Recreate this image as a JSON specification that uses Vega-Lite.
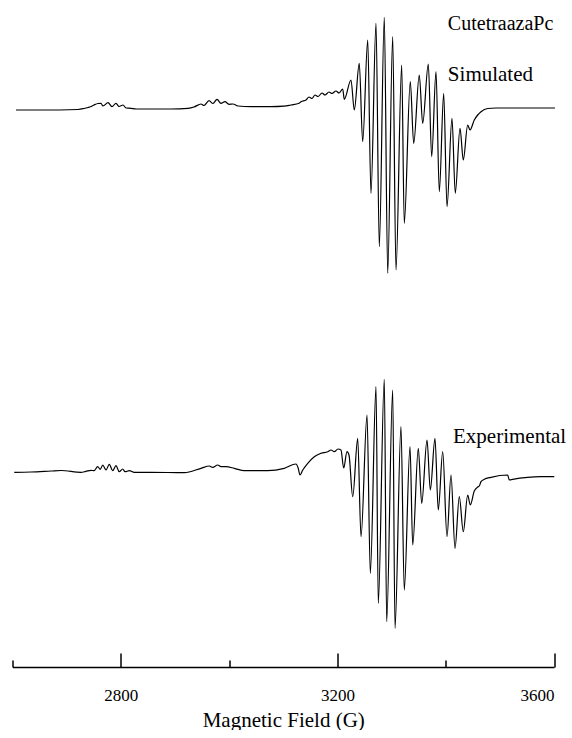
{
  "$schema": "https://vega.github.io/schema/vega-lite/v6.json",
  "background": "white",
  "padding": {"left": 11.5, "top": 0, "right": 6, "bottom": 0},
  "spacing": 0,
  "bounds": "flush",
  "config": {"view": {"stroke": null}},
  "datasets": {
    "simulated": [
      {"B": 2606.5, "I": 0}, {"B": 2652.6, "I": 0}, {"B": 2721.0, "I": 0.5}, {"B": 2732.0, "I": 1.5},
      {"B": 2739.4, "I": 2.5}, {"B": 2745.0, "I": 3.5}, {"B": 2750.5, "I": 5}, {"B": 2757.9, "I": 6.5},
      {"B": 2763.4, "I": 6.7}, {"B": 2767.1, "I": 4}, {"B": 2776.4, "I": 7.3}, {"B": 2783.7, "I": 3.3},
      {"B": 2791.1, "I": 6.7}, {"B": 2796.7, "I": 3.5}, {"B": 2804.1, "I": 5}, {"B": 2809.6, "I": 2},
      {"B": 2818.8, "I": 1.7}, {"B": 2828.1, "I": 1}, {"B": 2855.8, "I": 1}, {"B": 2892.7, "I": 1},
      {"B": 2924.1, "I": 1.7}, {"B": 2935.2, "I": 3}, {"B": 2948.1, "I": 6}, {"B": 2953.6, "I": 4.5},
      {"B": 2962.9, "I": 9.3}, {"B": 2970.3, "I": 6.5}, {"B": 2977.7, "I": 10.7}, {"B": 2985.0, "I": 6.7},
      {"B": 2992.4, "I": 8.3}, {"B": 2999.8, "I": 5.7}, {"B": 3007.2, "I": 6}, {"B": 3016.4, "I": 4},
      {"B": 3040.4, "I": 3.3}, {"B": 3077.4, "I": 3.3}, {"B": 3101.4, "I": 3.8}, {"B": 3114.3, "I": 5},
      {"B": 3129.1, "I": 6.7}, {"B": 3132.8, "I": 8.3}, {"B": 3142.0, "I": 10}, {"B": 3147.5, "I": 13},
      {"B": 3153.1, "I": 11.5}, {"B": 3158.6, "I": 15}, {"B": 3164.2, "I": 13.5}, {"B": 3171.6, "I": 17},
      {"B": 3177.1, "I": 15}, {"B": 3184.5, "I": 18}, {"B": 3190.0, "I": 16.5}, {"B": 3197.4, "I": 19},
      {"B": 3203.0, "I": 17}, {"B": 3209.8, "I": 21}, {"B": 3212.7, "I": 10.7}, {"B": 3225.1, "I": 30},
      {"B": 3231.2, "I": 0}, {"B": 3240.4, "I": 46.7}, {"B": 3246.7, "I": -31.7}, {"B": 3256.0, "I": 70},
      {"B": 3262.0, "I": -83.3}, {"B": 3271.3, "I": 86.7}, {"B": 3277.4, "I": -136.7}, {"B": 3286.6, "I": 92.7},
      {"B": 3292.9, "I": -163.3}, {"B": 3302.1, "I": 73.3}, {"B": 3308.2, "I": -160}, {"B": 3318.7, "I": 45},
      {"B": 3323.5, "I": -113.3}, {"B": 3334.6, "I": 28.3}, {"B": 3340.9, "I": -33.3}, {"B": 3351.2, "I": 35},
      {"B": 3357.5, "I": -13.3}, {"B": 3367.9, "I": 46}, {"B": 3374.1, "I": -46.7}, {"B": 3382.1, "I": 38.3},
      {"B": 3388.2, "I": -81.7}, {"B": 3396.3, "I": 16.7}, {"B": 3402.4, "I": -96.7}, {"B": 3411.6, "I": -8.3},
      {"B": 3417.7, "I": -83.3}, {"B": 3426.4, "I": -18.3}, {"B": 3432.5, "I": -50}, {"B": 3440.6, "I": -15},
      {"B": 3444.9, "I": -20}, {"B": 3452.8, "I": -10}, {"B": 3459.1, "I": -5}, {"B": 3465.2, "I": -1.7},
      {"B": 3477.6, "I": 1.5}, {"B": 3492.9, "I": 2}, {"B": 3539.1, "I": 2}, {"B": 3576.0, "I": 2},
      {"B": 3601.8, "I": 2}
    ],
    "experimental": [
      {"B": 2603.3, "I": -0.3}, {"B": 2634.2, "I": 0}, {"B": 2671.1, "I": 1}, {"B": 2689.6, "I": 1.5},
      {"B": 2726.5, "I": -0.3}, {"B": 2735.7, "I": 0.7}, {"B": 2745.0, "I": 1.7}, {"B": 2750.5, "I": 1.3},
      {"B": 2757.3, "I": 5.3}, {"B": 2762.1, "I": 2.7}, {"B": 2766.6, "I": 7}, {"B": 2772.7, "I": 2},
      {"B": 2778.8, "I": 7.7}, {"B": 2785.0, "I": 1.3}, {"B": 2791.1, "I": 6.3}, {"B": 2797.2, "I": 0.3},
      {"B": 2803.5, "I": 3}, {"B": 2807.8, "I": 0.3}, {"B": 2815.7, "I": 1.3}, {"B": 2824.9, "I": -0.3},
      {"B": 2855.8, "I": -0.3}, {"B": 2917.3, "I": -0.7}, {"B": 2948.1, "I": 3.7}, {"B": 2963.4, "I": 6},
      {"B": 2969.7, "I": 4.7}, {"B": 2978.9, "I": 7}, {"B": 2985.0, "I": 5.3}, {"B": 2994.3, "I": 5.3},
      {"B": 3009.6, "I": 3.7}, {"B": 3028.1, "I": 1.3}, {"B": 3071.3, "I": 1.3}, {"B": 3101.9, "I": 3.7},
      {"B": 3123.5, "I": 8}, {"B": 3127.5, "I": 4}, {"B": 3130.9, "I": -3}, {"B": 3135.5, "I": 1.5}, {"B": 3145.2, "I": 8.7}, {"B": 3157.3, "I": 15.3},
      {"B": 3169.7, "I": 18.7}, {"B": 3182.1, "I": 20.3}, {"B": 3188.2, "I": 22}, {"B": 3194.3, "I": 20.3},
      {"B": 3201.1, "I": 23}, {"B": 3206.6, "I": 22}, {"B": 3211.6, "I": 4}, {"B": 3217.7, "I": 20.3},
      {"B": 3221.4, "I": 17}, {"B": 3228.3, "I": -24.7}, {"B": 3237.5, "I": 33.7}, {"B": 3243.6, "I": -64.7},
      {"B": 3254.7, "I": 57}, {"B": 3260.8, "I": -101.3}, {"B": 3271.3, "I": 85.3}, {"B": 3275.5, "I": -131.3},
      {"B": 3286.6, "I": 92.7}, {"B": 3291.0, "I": -149.7}, {"B": 3302.1, "I": 82}, {"B": 3306.4, "I": -156.3},
      {"B": 3317.4, "I": 45.3}, {"B": 3323.5, "I": -118}, {"B": 3334.1, "I": 25.3}, {"B": 3339.1, "I": -73},
      {"B": 3349.4, "I": 23.7}, {"B": 3355.7, "I": -31.3}, {"B": 3365.5, "I": 32}, {"B": 3371.6, "I": -18},
      {"B": 3380.2, "I": 33.7}, {"B": 3386.3, "I": -38}, {"B": 3394.5, "I": 20.3}, {"B": 3402.4, "I": -64.7},
      {"B": 3409.8, "I": -3}, {"B": 3417.2, "I": -76.3}, {"B": 3425.1, "I": -24.7}, {"B": 3432.5, "I": -59.7},
      {"B": 3440.6, "I": -23}, {"B": 3445.4, "I": -33}, {"B": 3452.8, "I": -19}, {"B": 3459.1, "I": -15},
      {"B": 3462.0, "I": -14}, {"B": 3465.2, "I": -9.7}, {"B": 3471.3, "I": -7.3}, {"B": 3483.6, "I": -5.3},
      {"B": 3514.5, "I": -3}, {"B": 3517.4, "I": -8}, {"B": 3523.7, "I": -7.3}, {"B": 3551.4, "I": -5.3},
      {"B": 3576.0, "I": -4.7}, {"B": 3600.5, "I": -4.7}
    ]
  },
  "vconcat": [
    {
      "width": 541.5,
      "height": 330,
      "layer": [
        {
          "data": {"name": "simulated"},
          "mark": {"type": "line", "color": "black", "strokeWidth": 1.2, "interpolate": "monotone"},
          "encoding": {
            "x": {"field": "B", "type": "quantitative", "scale": {"domain": [2600, 3600], "nice": false, "zero": false}, "axis": null},
            "y": {"field": "I", "type": "quantitative", "scale": {"domain": [-220, 110], "nice": false, "zero": false}, "axis": null}
          }
        },
        {
          "data": {"values": [
            {"B": 3404, "I": 86, "label": "CutetraazaPc"}
          ]},
          "mark": {"type": "text", "align": "left", "baseline": "middle", "font": "Liberation Serif", "fontSize": 20, "color": "black"},
          "encoding": {
            "x": {"field": "B", "type": "quantitative"},
            "y": {"field": "I", "type": "quantitative"},
            "text": {"field": "label"}
          }
        },
        {
          "data": {"values": [
            {"B": 3404, "I": 35, "label": "Simulated"}
          ]},
          "mark": {"type": "text", "align": "left", "baseline": "middle", "font": "Liberation Serif", "fontSize": 21, "color": "black"},
          "encoding": {
            "x": {"field": "B", "type": "quantitative"},
            "y": {"field": "I", "type": "quantitative"},
            "text": {"field": "label"}
          }
        }
      ]
    },
    {
      "width": 541.5,
      "height": 337,
      "layer": [
        {
          "data": {"name": "experimental"},
          "mark": {"type": "line", "color": "black", "strokeWidth": 1.2, "interpolate": "monotone"},
          "encoding": {
            "x": {
              "field": "B", "type": "quantitative",
              "scale": {"domain": [2600, 3600], "nice": false, "zero": false},
              "axis": {
                "values": [2600, 2800, 3000, 3200, 3400, 3600],
                "format": "d",
                "labelExpr": "datum.value % 400 == 0 ? datum.label : ''",
                "title": "Magnetic Field (G)",
                "grid": false,
                "tickSize": {"condition": {"test": "datum.value % 400 == 0", "value": -14}, "value": -7},
                "tickColor": "black",
                "tickWidth": 1.5,
                "domainColor": "black",
                "domainWidth": 1.5,
                "labelFont": "Liberation Serif",
                "labelFontSize": 17,
                "labelColor": "black",
                "labelPadding": 34,
                "titleFont": "Liberation Serif",
                "titleFontSize": 21,
                "titleFontWeight": "normal",
                "titleColor": "black",
                "titlePadding": 6
              }
            },
            "y": {"field": "I", "type": "quantitative", "scale": {"domain": [-195, 142], "nice": false, "zero": false}, "axis": null}
          }
        },
        {
          "data": {"values": [
            {"B": 3413.5, "I": 35, "label": "Experimental"}
          ]},
          "mark": {"type": "text", "align": "left", "baseline": "middle", "font": "Liberation Serif", "fontSize": 21, "color": "black"},
          "encoding": {
            "x": {"field": "B", "type": "quantitative"},
            "y": {"field": "I", "type": "quantitative"},
            "text": {"field": "label"}
          }
        }
      ]
    }
  ],
  "resolve": {"scale": {"y": "independent"}}
}
